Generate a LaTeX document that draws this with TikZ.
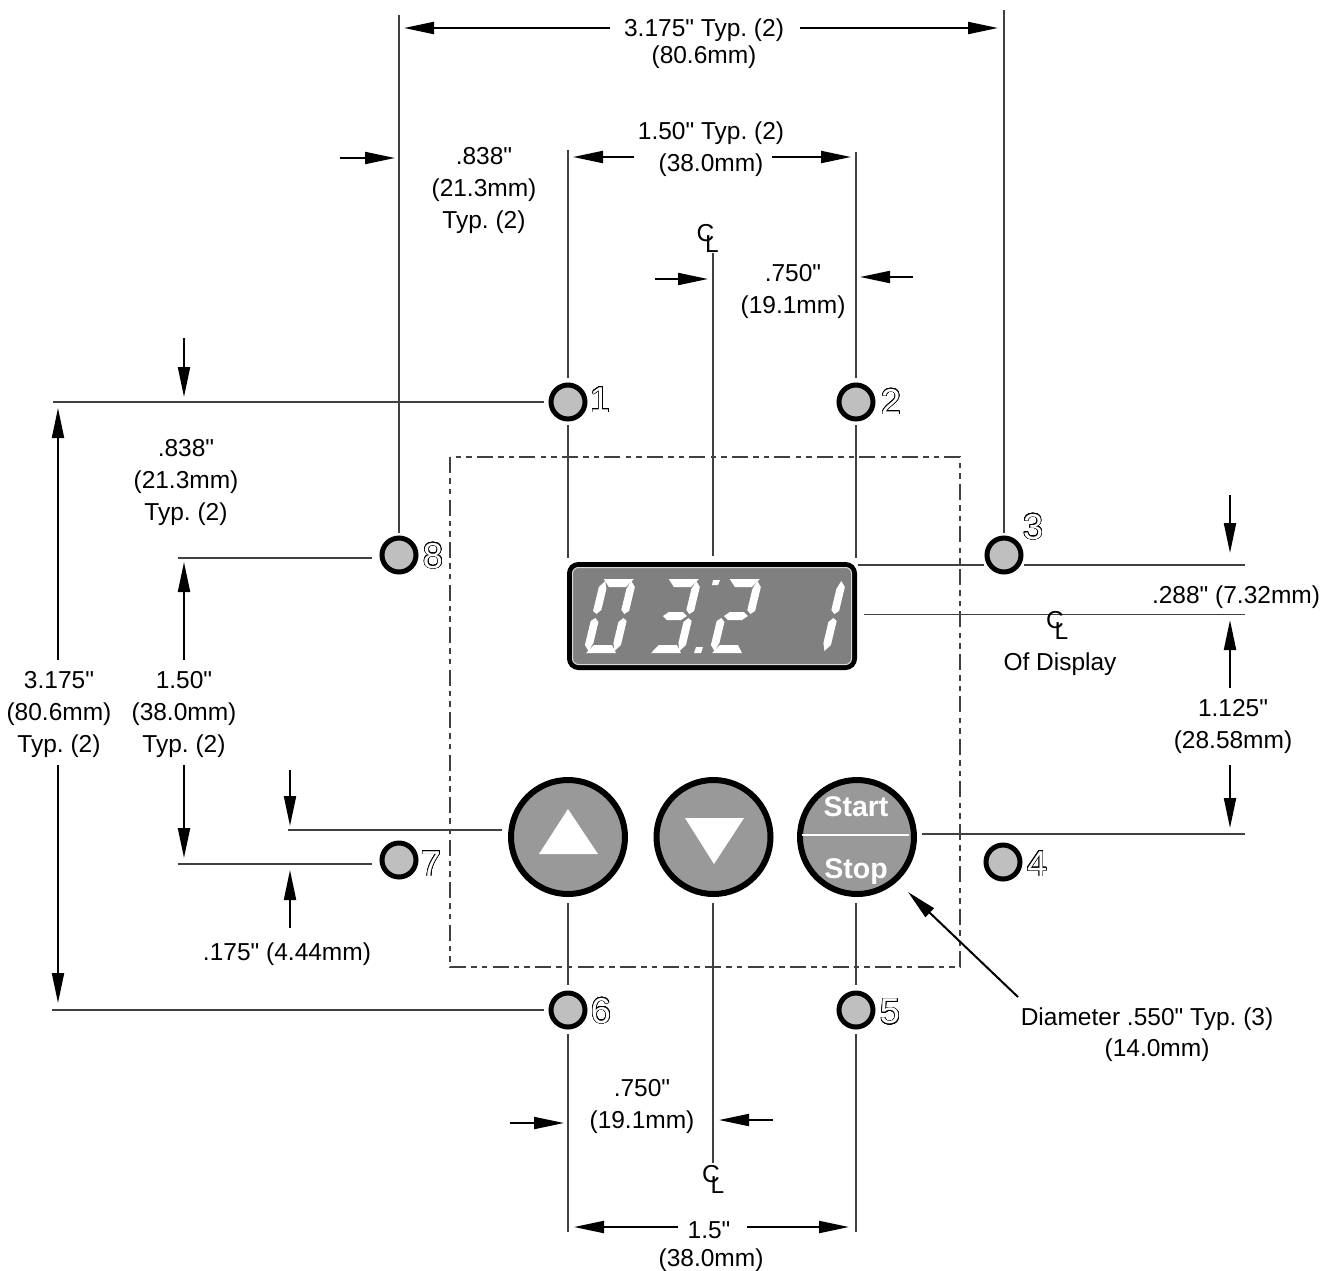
\documentclass[tikz,border=0pt]{standalone}
\usepackage{fontspec}
\setmainfont[Ligatures=TeXOff]{Liberation Sans}
\usepackage[copies]{contour}
\usetikzlibrary{arrows.meta}
\contourlength{0.6pt}
\contournumber{24}
\definecolor{dimline}{gray}{0.25}
\definecolor{platefill}{gray}{0.5}
\definecolor{btnfill}{gray}{0.6}
\definecolor{holefill}{gray}{0.75}
\tikzset{
    dim/.style={draw=dimline, line width=1.5pt},
    dimarrow/.style={draw=black, line width=2pt, -{Triangle[length=30pt,width=12pt]}},
    dimtext/.style={align=center, inner sep=0pt, font=\fontsize{24.5}{32}\selectfont\frenchspacing},
    hole/.style={draw=black, line width=5pt, fill=holefill, shape=circle, inner sep=0pt, minimum size=34pt},
    holenum/.style={inner sep=0pt, text=white, font=\fontsize{36}{36}\selectfont},
    button/.style={draw=black, line width=6pt, fill=btnfill, shape=circle, inner sep=0pt, minimum size=114pt},
    btntext/.style={inner sep=0pt, text=white, font=\fontsize{28.5}{30}\selectfont\bfseries},
    segfill/.style={fill=white}
}
\newcommand{\sega}{(3,-74) -- (33,-74) -- (27,-66) -- (10,-66) -- cycle}
\newcommand{\segb}{(31,-72) -- (36,-66) -- (36,-42) -- (32,-39) -- (28,-43) -- (28,-64) -- cycle}
\newcommand{\segc}{(32,-35) -- (36,-32) -- (36,-8) -- (31,-2) -- (28,-10) -- (28,-31) -- cycle}
\newcommand{\segd}{(3,0) -- (33,0) -- (27,-8) -- (9,-8) -- cycle}
\newcommand{\sege}{(4,-35) -- (8,-31) -- (8,-10) -- (5,-2) -- (0,-8) -- (0,-32) -- cycle}
\newcommand{\segf}{(5,-72) -- (8,-64) -- (8,-43) -- (4,-39) -- (0,-42) -- (0,-66) -- cycle}
\newcommand{\segg}{(6,-37) -- (11,-41) -- (25,-41) -- (30,-37) -- (25,-33) -- (11,-33) -- cycle}
\newcommand{\dispdigit}[2]{%
    \begin{scope}[shift={(#1,653)}, xslant=0.24]
        \foreach \s in {#2} {\fill[segfill] \csname seg\s\endcsname;}
    \end{scope}}
\newcommand{\clmark}[3]{%
    \node(#1C)[dimtext] at (#2,#3) {C};
    \node(#1L)[dimtext] at (#2+6.5,#3+11) {L};}

\begin{document}
\begin{tikzpicture}[x=1pt, y=-1pt]
    \useasboundingbox (0,0) rectangle (1331,1270);

    \draw[draw=dimline, line width=1.3pt, dash pattern=on 16pt off 5pt on 5.5pt off 5pt on 5.5pt off 5.5pt] (450,457) rectangle (960,967);

    \draw[dim] (399,15) -- (399,533);
    \draw[dim] (1004,10) -- (1004,533);
    \draw[dim] (568,150) -- (568,378);
    \draw[dim] (568,425) -- (568,558);
    \draw[dim] (856,152) -- (856,378);
    \draw[dim] (856,425) -- (856,558);
    \draw[dim] (713,253) -- (713,556);
    \draw[dim] (53,402) -- (544,402);
    \draw[dim] (178,558) -- (372,558);
    \draw[dim] (858,565) -- (984,565);
    \draw[dim] (1024,565) -- (1245,565);
    \draw[dim] (864,614.5) -- (1245,614.5);
    \draw[dim] (922,834) -- (1245,834);
    \draw[dim] (288,830) -- (502,830);
    \draw[dim] (178,864) -- (372,864);
    \draw[dim] (52,1010) -- (544,1010);
    \draw[dim] (568,903) -- (568,985);
    \draw[dim] (568,1034) -- (568,1232);
    \draw[dim] (856,903) -- (856,985);
    \draw[dim] (856,1034) -- (856,1232);
    \draw[dim] (713,903) -- (713,1163);

    \draw[dimarrow] (610,28) -- (404,28);
    \draw[dimarrow] (800,28) -- (998,28);
    \draw[dimarrow] (634,157) -- (573,157);
    \draw[dimarrow] (772,157) -- (851,157);
    \draw[dimarrow] (340,158) -- (395,158);
    \draw[dimarrow] (655,279) -- (708,279);
    \draw[dimarrow] (913,277) -- (860,277);
    \draw[dimarrow] (184,338) -- (184,397);
    \draw[dimarrow] (58,660) -- (58,408);
    \draw[dimarrow] (58,765) -- (58,1003);
    \draw[dimarrow] (184,660) -- (184,562);
    \draw[dimarrow] (184,765) -- (184,858);
    \draw[dimarrow] (290,770) -- (290,826);
    \draw[dimarrow] (290,928) -- (290,870);
    \draw[dimarrow] (1230,495) -- (1230,553);
    \draw[dimarrow] (1230,688) -- (1230,620);
    \draw[dimarrow] (1230,765) -- (1230,828);
    \draw[dimarrow] (1018,997) -- (908,892);
    \draw[dimarrow] (510,1123) -- (564,1123);
    \draw[dimarrow] (773,1120) -- (719,1120);
    \draw[dimarrow] (678,1227) -- (574,1227);
    \draw[dimarrow] (747,1227) -- (849,1227);

    \node(hole1)[hole] at (568,402) {};
    \node(hole2)[hole] at (856,402) {};
    \node(hole3)[hole] at (1004,555) {};
    \node(hole4)[hole] at (1003,862) {};
    \node(hole5)[hole] at (856,1010) {};
    \node(hole6)[hole] at (568,1010) {};
    \node(hole7)[hole] at (399,860) {};
    \node(hole8)[hole] at (399,555) {};

    \node(num1)[holenum] at (600,400) {\contour{black}{1}};
    \node(num2)[holenum] at (891,402) {\contour{black}{2}};
    \node(num3)[holenum] at (1033,527) {\contour{black}{3}};
    \node(num4)[holenum] at (1037,864) {\contour{black}{4}};
    \node(num5)[holenum] at (890,1012) {\contour{black}{5}};
    \node(num6)[holenum] at (601,1011) {\contour{black}{6}};
    \node(num7)[holenum] at (431,864) {\contour{black}{7}};
    \node(num8)[holenum] at (433,556) {\contour{black}{8}};

    \draw[draw=black, line width=5pt, fill=platefill, rounded corners=9pt] (569.5,564.5) rectangle (854.5,667.5);
    \draw[draw=white!85!black, line width=1pt, rounded corners=6pt] (572.5,567.5) rectangle (851.5,664.5);
    \dispdigit{583}{a,b,c,d,e,f}
    \dispdigit{648}{a,b,c,d,g}
    \dispdigit{709}{a,b,d,e,g}
    \dispdigit{793}{b,c}
    \fill[segfill] (696,647) -- (703,647) -- (701,653) -- (694,653) -- cycle;
    \fill[segfill] (713,580) -- (720,580) -- (718,585) -- (712,585) -- cycle;

    \node(btnup)[button] at (568,837) {};
    \node(btndown)[button] at (713.5,837) {};
    \node(btnstart)[button] at (857,837) {};
    \fill[white] (568,809) -- (598,854) -- (539,854) -- cycle;
    \fill[white] (685,818) -- (744,818) -- (714,864) -- cycle;
    \draw[draw=white, line width=2pt] (802,835) -- (909,835);
    \node(start)[btntext] at (856,807) {Start};
    \node(stop)[btntext] at (856,871) {Stop};

    \clmark{clTop}{705.5}{233}
    \clmark{clDisp}{1055}{620}
    \clmark{clBot}{711}{1174}

    \node(topdim)[dimtext, font=\fontsize{24.5}{27}\selectfont\frenchspacing] at (704,44) {3.175" Typ. (2)\\(80.6mm)};
    \node(innerdim)[dimtext] at (711,149) {1.50" Typ. (2)\\(38.0mm)};
    \node(topleft)[dimtext] at (484,190) {.838"\\(21.3mm)\\Typ. (2)};
    \node(halftop)[dimtext] at (793,291) {.750"\\(19.1mm)};
    \node(leftdim)[dimtext] at (186,482) {.838"\\(21.3mm)\\Typ. (2)};
    \node(fulldim)[dimtext] at (59,714.5) {3.175"\\(80.6mm)\\Typ. (2)};
    \node(leftinner)[dimtext] at (184,714.5) {1.50"\\(38.0mm)\\Typ. (2)};
    \node(offset)[dimtext] at (287,954) {.175" (4.44mm)};
    \node(dispdim)[dimtext] at (1236,597) {.288" (7.32mm)};
    \node(ofdisp)[dimtext] at (1060,664) {Of Display};
    \node(btndim)[dimtext] at (1233,726) {1.125"\\(28.58mm)};
    \node(diam)[dimtext] at (1147,1019) {Diameter .550" Typ. (3)};
    \node(diammm)[dimtext] at (1157,1050) {(14.0mm)};
    \node(halfbot)[dimtext] at (642,1106) {.750"\\(19.1mm)};
    \node(botdim)[dimtext] at (709,1230) {1.5"};
    \node(botmm)[dimtext] at (711,1260) {(38.0mm)};
\end{tikzpicture}
\end{document}
